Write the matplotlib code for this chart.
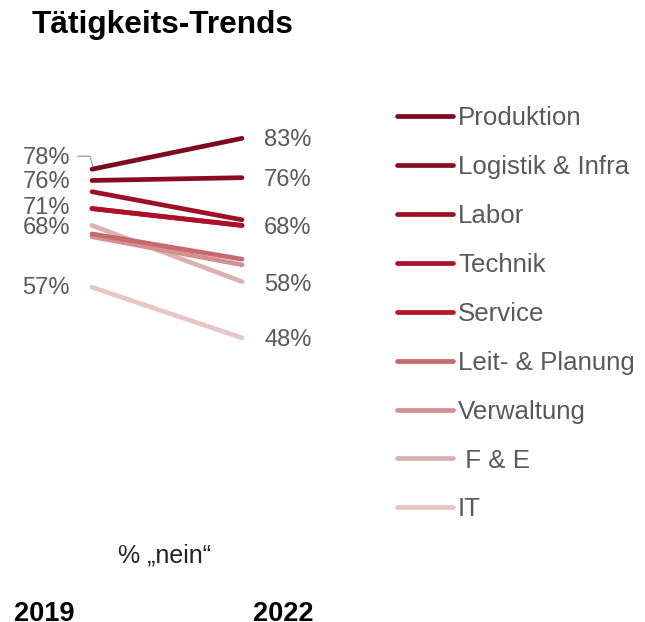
import matplotlib.pyplot as plt

plt.rcParams["font.family"] = ["Liberation Sans", "DejaVu Sans"]

# data: share of "nein" answers in percent
groups = ["Produktion", "Logistik & Infra", "Labor", "Technik", "Service",
          "Leit- & Planung", "Verwaltung", " F & E", "IT"]
values_2019 = [78, 76, 74, 71, 71, 66.5, 66, 68, 57]
values_2022 = [83.5, 76.5, 69, 68, 68, 62, 61, 58, 48]
colors = ["#7d0a1e", "#8a0c20", "#a01025", "#ad1028", "#b8152c",
          "#c76a6e", "#d29093", "#ddb0b2", "#e8c6c6"]

left_labels = ["78%", "76%", "71%", "68%", "57%"]
left_label_y = [80.0, 75.7, 71.1, 67.6, 56.9]
right_labels = ["83%", "76%", "68%", "58%", "48%"]
right_label_y = [83.2, 76.1, 67.6, 57.4, 47.6]

W, H = 645, 622
fig = plt.figure(figsize=(W / 100, H / 100), dpi=100)

# axes placed so that x=0 -> 2019 line start, x=1 -> 2022 line end
y_top_px, y_bot_px = 129.9, 354.7
ax = fig.add_axes([92 / W, 1 - y_bot_px / H, 150 / W, (y_bot_px - y_top_px) / H])
ax.set_xlim(0, 1)
ax.set_ylim(45, 85)
ax.axis("off")

handles = []
for name, a, b, c in zip(groups, values_2019, values_2022, colors):
    ln, = ax.plot([0, 1], [a, b], color=c, lw=3.4, solid_capstyle="round",
                  label=name, clip_on=False)
    handles.append(ln)

# darker lines on top like the original
for i, ln in enumerate(handles):
    ln.set_zorder(10 - i)

for txt, y in zip(left_labels, left_label_y):
    ax.text(-0.147, y, txt, ha="right", va="center", fontsize=17, color="#595959")
for txt, y in zip(right_labels, right_label_y):
    ax.text(1.147, y, txt, ha="left", va="center", fontsize=17, color="#595959")

# leader line from the 78% label to the Produktion start point
ax.plot([-0.093, -0.013, 0.007], [80.3, 80.3, 78.4], color="#a6a6a6", lw=1.0,
        clip_on=False, zorder=1)

leg = fig.legend(handles=handles, labels=groups, loc="upper left",
                 bbox_to_anchor=(397 / W, 1 - 106 / H), frameon=False,
                 fontsize=18.6, handlelength=2.17, handletextpad=0.19,
                 labelspacing=0.965, borderpad=0, borderaxespad=0)
for t in leg.get_texts():
    t.set_color("#595959")

fig.text(32 / W, 1 - 25 / H, "Tätigkeits-Trends", fontsize=22.8, fontweight="bold",
         ha="left", va="center", color="#000000")
fig.text(165 / W, 1 - 556 / H, "% \u201enein\u201c", fontsize=18, ha="center",
         va="center", color="#222222")
fig.text(44 / W, 1 / H, "2019", fontsize=19.5, fontweight="bold", ha="center",
         va="baseline", color="#000000")
fig.text(283 / W, 1 / H, "2022", fontsize=19.5, fontweight="bold", ha="center",
         va="baseline", color="#000000")

fig.savefig("out.png", dpi=100)
